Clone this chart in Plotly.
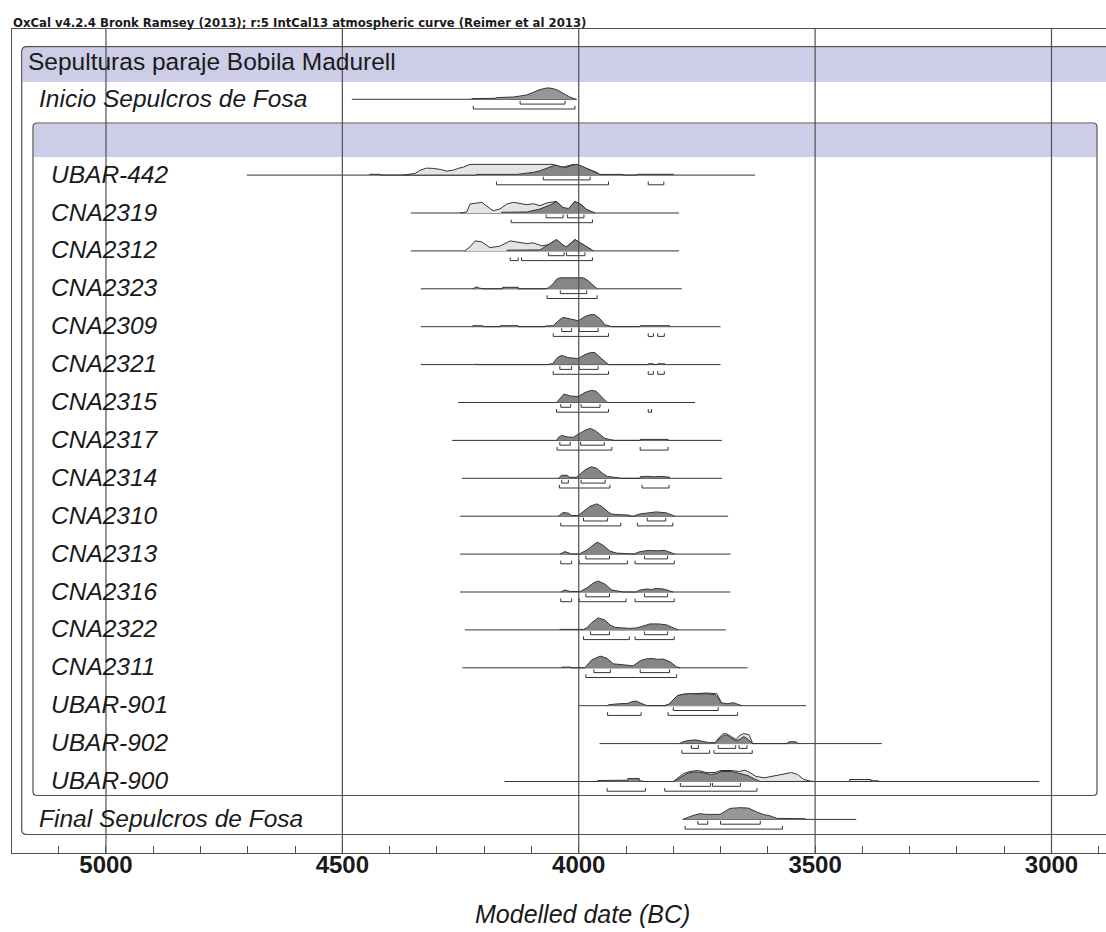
import plotly.graph_objects as go

# ---------------- text ----------------
HEADER_TEXT = "OxCal v4.2.4 Bronk Ramsey (2013); r:5 IntCal13 atmospheric curve (Reimer et al 2013)"
GROUP_TITLE = "Sepulturas paraje Bobila Madurell"
AXIS_TITLE = "Modelled date (BC)"

# ---------------- x axis (years BC, older on the left) ----------------
TICK_VALUES = [5000, 4500, 4000, 3500, 3000]
TICK_TEXT = ["5000", "4500", "4000", "3500", "3000"]
MINOR_STEP = 100
X_RANGE = [5198.8, 2884.7]

# ---------------- rows ----------------
ROW_LABELS = [
    "Inicio Sepulcros de Fosa",
    "UBAR-442", "CNA2319", "CNA2312", "CNA2323", "CNA2309", "CNA2321",
    "CNA2315", "CNA2317", "CNA2314", "CNA2310", "CNA2313", "CNA2316",
    "CNA2322", "CNA2311", "UBAR-901", "UBAR-902", "UBAR-900",
    "Final Sepulcros de Fosa",
]

# extent of each row's range line (years BC)
RANGE_START = [4480, 4702, 4355, 4355, 4334, 4334, 4334, 4255, 4268, 4247,
               4251, 4251, 4251, 4241, 4246, 4000, 3956, 4157, 3780]
RANGE_END = [4004, 3627, 3788, 3788, 3782, 3700, 3700, 3754, 3697, 3697,
             3684, 3679, 3679, 3689, 3643, 3519, 3359, 3026, 3413]

# highest posterior density ranges (from, to) in years BC
HPD68 = [
    [(4124, 4029)],
    [(4075, 3976)],
    [(4069, 4033), (4024, 3989)],
    [(4064, 4031), (4026, 3987)],
    [(4039, 3983)],
    [(4036, 4015), (3999, 3959)],
    [(4040, 4015), (3999, 3959)],
    [(4038, 4017), (3995, 3955)],
    [(4040, 4018), (3996, 3946)],
    [(4036, 4022), (3995, 3944)],
    [(3990, 3939), (3855, 3816)],
    [(3985, 3935), (3861, 3812)],
    [(3985, 3935), (3861, 3812)],
    [(3975, 3935), (3861, 3812)],
    [(3968, 3933), (3870, 3808)],
    [(3800, 3705)],
    [(3762, 3747), (3705, 3668), (3661, 3644)],
    [(3785, 3721), (3717, 3658)],
    [(3748, 3727), (3700, 3616)],
]
HPD95 = [
    [(4223, 4008)],
    [(4174, 3937), (3853, 3820)],
    [(4143, 3971)],
    [(4145, 4128), (4121, 3971)],
    [(4067, 3961)],
    [(4054, 3937), (3853, 3842), (3833, 3819)],
    [(4054, 3937), (3853, 3842), (3833, 3819)],
    [(4047, 3937), (3853, 3846)],
    [(4046, 3930), (3870, 3811)],
    [(4041, 3934), (3866, 3809)],
    [(4038, 3911), (3876, 3801)],
    [(4038, 4015), (3999, 3897), (3881, 3798)],
    [(4038, 4015), (3999, 3900), (3881, 3798)],
    [(3990, 3893), (3881, 3798)],
    [(3985, 3793)],
    [(3939, 3868), (3811, 3664)],
    [(3782, 3723), (3714, 3633)],
    [(3940, 3859), (3818, 3623)],
    [(3775, 3569)],
]

# probability distributions: (year BC, relative probability)
INICIO_POST = [(4226, 0), (4226, 0.7), (4177, 1.0), (4174, 1.7), (4138, 2.3), (4110, 4.3),
               (4096, 7.0), (4082, 9.7), (4068, 11.3), (4061, 11.3), (4047, 9.7),
               (4033, 6.3), (4019, 2.3), (4006, 0)]

UBAR442_LIKE = [(4371, 0), (4346, 1.7), (4336, 4.7), (4322, 7.0), (4308, 6.7), (4293, 5.7),
                (4279, 4.0), (4265, 5.0), (4255, 6.7), (4244, 8.0), (4230, 10.7),
                (4054, 10.7), (4043, 9.0), (4033, 8.0), (4012, 10.7), (3997, 9.3),
                (3987, 7.3), (3962, 2.7), (3954, 0)]
UBAR442_POST = [(4442, 0), (4442, 0.8), (4420, 0.8), (4420, 0), (4216, 0), (4216, 0.7),
                (4131, 0.7), (4096, 2.7), (4082, 4.3), (4068, 6.7), (4050, 10.0),
                (4040, 8.7), (4029, 7.3), (4015, 9.7), (4004, 10.7), (3994, 9.0),
                (3976, 5.0), (3955, 0.7), (3906, 0.7), (3906, 0), (3877, 0),
                (3877, 0.8), (3800, 0.8), (3800, 0)]

CNA2319_LIKE = [(4251, 0), (4237, 1.0), (4230, 9.0), (4205, 10.7), (4195, 7.0), (4181, 2.3),
                (4167, 4.0), (4152, 9.0), (4138, 10.7), (4124, 9.5), (4110, 8.3),
                (4096, 9.3), (4082, 7.3), (4068, 10.0), (4047, 11.7), (4033, 5.0),
                (4022, 4.0), (4008, 11.7), (3994, 8.3), (3983, 3.3), (3966, 0)]
CNA2319_POST = [(4163, 0), (4163, 0.7), (4110, 1.0), (4082, 4.0), (4061, 8.0), (4047, 11.2),
                (4033, 5.5), (4022, 4.5), (4008, 11.2), (3997, 9.0), (3983, 3.5), (3966, 0)]

CNA2312_LIKE = [(4241, 0), (4230, 4.0), (4219, 10.0), (4205, 9.0), (4188, 3.3), (4167, 4.7),
                (4145, 10.0), (4128, 8.7), (4110, 7.3), (4096, 8.0), (4078, 5.0),
                (4064, 6.3), (4047, 11.3), (4033, 5.7), (4026, 4.0), (4008, 11.3),
                (3994, 7.3), (3983, 3.3), (3969, 0)]
CNA2312_POST = [(4152, 0), (4152, 0.7), (4082, 1.0), (4064, 6.0), (4047, 11.3), (4033, 5.7),
                (4026, 4.0), (4008, 11.3), (3994, 7.3), (3983, 3.3), (3969, 0)]

CNA2323_POST = [(4224, 0), (4220, 1.0), (4216, 2.0), (4212, 1.0), (4203, 0), (4161, 0),
                (4161, 1.5), (4128, 1.5), (4128, 0), (4071, 0), (4064, 1.0), (4054, 5.0),
                (4047, 9.5), (4040, 11.0), (3990, 11.0), (3980, 8.0), (3969, 3.0), (3961, 0)]

CNA2309_POST = [(4224, 0), (4224, 1.0), (4203, 1.0), (4203, 0), (4166, 0), (4166, 1.0),
                (4128, 1.0), (4128, 0), (4071, 0), (4071, 0.7), (4054, 1.0), (4043, 6.0),
                (4033, 9.3), (4022, 8.0), (4001, 6.0), (3987, 10.0), (3976, 12.0),
                (3966, 12.0), (3955, 8.0), (3945, 2.0), (3930, 0.7), (3930, 0),
                (3870, 0), (3870, 1.0), (3808, 1.0), (3808, 0)]

CNA2321_POST = [(4218, 0), (4216, 0.8), (4214, 0), (4149, 0), (4149, 0.7), (4131, 0.7),
                (4131, 0), (4066, 0), (4055, 1.0), (4045, 7.0), (4036, 9.3), (4023, 7.0),
                (4001, 6.0), (3987, 10.0), (3975, 12.0), (3966, 12.0), (3952, 6.0),
                (3937, 0.7), (3937, 0), (3853, 0), (3853, 0.8), (3842, 0.8), (3842, 0),
                (3833, 0), (3833, 0.8), (3818, 0.8), (3818, 0)]

CNA2315_POST = [(4047, 0), (4040, 4.0), (4031, 8.5), (4018, 6.5), (4001, 6.0), (3987, 10.0),
                (3975, 12.0), (3964, 11.5), (3952, 6.0), (3942, 0.7), (3940, 0)]

CNA2317_POST = [(4047, 0), (4043, 3.0), (4036, 5.0), (4025, 3.5), (4012, 3.0), (4001, 6.0),
                (3987, 10.0), (3976, 12.0), (3966, 10.0), (3955, 6.0), (3945, 2.0),
                (3935, 1.0), (3925, 0), (3870, 0), (3870, 1.0), (3811, 1.0), (3811, 0)]

CNA2314_POST = [(4043, 0), (4040, 1.0), (4036, 3.0), (4024, 3.0), (4020, 1.0), (4005, 1.0),
                (3995, 5.0), (3985, 9.0), (3973, 11.5), (3962, 10.0), (3950, 5.0),
                (3940, 2.0), (3925, 1.0), (3910, 0), (3870, 0), (3870, 1.5), (3855, 2.0),
                (3840, 1.5), (3825, 2.0), (3808, 1.0), (3808, 0)]

CNA2310_POST = [(4043, 0), (4041, 0.7), (4033, 3.7), (4022, 3.0), (4015, 0.7), (4001, 0.7),
                (3990, 5.0), (3976, 10.0), (3962, 12.3), (3952, 10.0), (3937, 4.0),
                (3930, 2.0), (3892, 1.0), (3892, 0), (3881, 0), (3881, 0.7), (3870, 2.3),
                (3856, 3.3), (3836, 4.3), (3814, 3.3), (3797, 0)]

CNA2313_POST = [(4040, 0), (4029, 2.5), (4015, 0), (3997, 0), (3997, 0.5), (3983, 4.0),
                (3973, 8.0), (3961, 12.0), (3949, 9.0), (3934, 3.0), (3920, 1.0),
                (3892, 0.7), (3888, 0), (3881, 0), (3881, 0.5), (3870, 2.5), (3853, 3.7),
                (3836, 3.3), (3818, 3.7), (3797, 0)]

CNA2316_POST = [(4038, 0), (4029, 2.0), (4018, 0.5), (3997, 0.5), (3983, 4.0), (3969, 9.0),
                (3959, 11.0), (3945, 8.0), (3930, 2.0), (3906, 0.5), (3906, 0), (3877, 0),
                (3877, 0.5), (3870, 2.0), (3856, 3.0), (3846, 2.5), (3836, 3.5),
                (3821, 3.0), (3800, 0)]

CNA2322_POST = [(4040, 0), (4040, 0.5), (3990, 0.5), (3983, 2.0), (3973, 7.0), (3959, 12.0),
                (3945, 10.0), (3934, 5.0), (3923, 2.5), (3892, 1.5), (3877, 2.0),
                (3863, 4.0), (3849, 6.0), (3831, 6.0), (3814, 5.0), (3800, 2.0), (3789, 0)]

CNA2311_POST = [(4036, 0), (4036, 0.7), (4017, 0.7), (4017, 0), (3987, 0), (3973, 7.7),
                (3955, 11.7), (3941, 9.7), (3927, 4.0), (3899, 2.7), (3885, 2.0),
                (3870, 7.0), (3856, 9.0), (3842, 9.3), (3835, 8.5), (3821, 8.7),
                (3807, 6.0), (3793, 1.0), (3786, 0)]

UBAR901_LIKE = [(3818, 0), (3809, 1.5), (3800, 6.0), (3791, 10.0), (3778, 11.5), (3756, 12.3),
                (3730, 12.7), (3708, 12.0), (3704, 8.0), (3699, 3.0), (3695, 0)]
UBAR901_POST = [(3940, 0), (3936, 1.0), (3914, 2.0), (3896, 2.3), (3888, 4.0), (3879, 4.7),
                (3866, 2.0), (3857, 0.7), (3855, 0), (3818, 0), (3809, 1.5), (3800, 6.0),
                (3791, 10.0), (3778, 11.5), (3765, 12.0), (3747, 11.7), (3730, 12.0),
                (3712, 11.0), (3705, 8.0), (3699, 3.0), (3686, 2.0), (3673, 3.0),
                (3664, 1.5), (3655, 0)]

UBAR902_LIKE = [(3712, 0), (3705, 5.0), (3695, 9.7), (3688, 10.0), (3677, 7.0), (3667, 4.0),
                (3660, 8.0), (3651, 10.0), (3640, 9.0), (3632, 0)]
UBAR902_POST = [(3787, 0), (3778, 2.0), (3765, 3.3), (3752, 3.7), (3739, 2.3), (3725, 1.0),
                (3712, 1.0), (3705, 4.0), (3695, 7.7), (3688, 8.7), (3677, 6.0),
                (3668, 3.0), (3660, 4.0), (3651, 7.0), (3644, 5.0), (3635, 1.0),
                (3632, 0), (3559, 0), (3557, 1.5), (3548, 2.0), (3539, 1.5), (3537, 0)]

UBAR900_LIKE = [(3800, 0), (3791, 3.0), (3778, 8.0), (3765, 10.0), (3747, 11.0), (3730, 9.0),
                (3712, 9.0), (3699, 11.0), (3677, 11.0), (3660, 10.0), (3649, 11.3),
                (3638, 9.0), (3625, 5.0), (3607, 3.7), (3581, 6.0), (3550, 9.0),
                (3537, 7.0), (3524, 2.0), (3511, 0.5), (3502, 0), (3427, 0), (3427, 2.0),
                (3382, 2.0), (3382, 0)]
UBAR900_POST = [(3960, 0), (3960, 1.0), (3896, 1.3), (3896, 3.0), (3872, 3.0), (3872, 1.0),
                (3861, 0), (3800, 0), (3791, 2.0), (3782, 5.0), (3769, 8.3), (3756, 9.7),
                (3739, 9.0), (3721, 7.0), (3708, 8.0), (3699, 10.0), (3677, 10.0),
                (3660, 8.0), (3642, 6.0), (3629, 2.7), (3616, 0), (3382, 0), (3382, 0.7),
                (3366, 0.7), (3366, 0)]

FINAL_POST = [(3780, 0), (3775, 1.0), (3758, 4.0), (3744, 5.7), (3729, 5.0), (3701, 5.0),
              (3691, 8.0), (3680, 11.0), (3659, 11.7), (3641, 11.3), (3624, 7.5),
              (3610, 5.0), (3595, 3.5), (3581, 1.0), (3521, 0.7), (3521, 0)]

POSTERIORS = [INICIO_POST, UBAR442_POST, CNA2319_POST, CNA2312_POST, CNA2323_POST,
              CNA2309_POST, CNA2321_POST, CNA2315_POST, CNA2317_POST, CNA2314_POST,
              CNA2310_POST, CNA2313_POST, CNA2316_POST, CNA2322_POST, CNA2311_POST,
              UBAR901_POST, UBAR902_POST, UBAR900_POST, FINAL_POST]
LIKELIHOODS = [None, UBAR442_LIKE, CNA2319_LIKE, CNA2312_LIKE, None, None, None, None,
               None, None, None, None, None, None, None, UBAR901_LIKE, UBAR902_LIKE,
               UBAR900_LIKE, None]

# ---------------- layout geometry (pixels) ----------------
W, H = 1106, 932
M_L, M_T, M_B = 12, 29, 79
Y_TOP, Y_AXIS = 29, 853           # y axis runs in page pixels
ROW0, PITCH = 99.3, 37.9           # baseline of first row and row spacing
PROB_SCALE = 1.0                   # pixels per unit of relative probability

INK = "#353535"
FRAME = "#505050"
TEXT = "#1a1a1a"
BAND = "#cdcde8"
LIGHT_FILL = "#e4e4e4"
DARK_FILL = "#868686"
BOUNDARY_FILL = "#979797"
FONT = "Liberation Sans"


def px_to_year(px):
    span = X_RANGE[0] - X_RANGE[1]
    return X_RANGE[0] - (px - M_L) / (W - M_L) * span


def px_to_paper_x(px):
    return (px - M_L) / (W - M_L)


def px_to_paper_y(py):
    return (Y_AXIS - py) / (Y_AXIS - Y_TOP)


def slot(i):
    # the phase header occupies one slot after the first boundary
    return i + (1 if i > 0 else 0)


def baseline(i):
    return ROW0 + slot(i) * PITCH


def rounded_box(l, t, r, b, rad):
    xl, xr = px_to_year(l), px_to_year(r)
    dx = px_to_year(l) - px_to_year(l + rad)
    return (f"M {xl},{t + rad} Q {xl},{t} {xl - dx},{t} L {xr + dx},{t} "
            f"Q {xr},{t} {xr},{t + rad} L {xr},{b - rad} Q {xr},{b} {xr + dx},{b} "
            f"L {xl - dx},{b} Q {xl},{b} {xl},{b - rad} Z")


fig = go.Figure()

# range lines
rx, ry = [], []
for i in range(len(ROW_LABELS)):
    y0 = baseline(i)
    rx += [RANGE_START[i], RANGE_END[i], None]
    ry += [y0, y0, None]
fig.add_trace(go.Scatter(x=rx, y=ry, mode="lines", line=dict(color=INK, width=1),
                         hoverinfo="skip", showlegend=False))


def add_dist(points, y0, fill):
    xs = [p[0] for p in points]
    ys = [y0 - p[1] * PROB_SCALE for p in points]
    fig.add_trace(go.Scatter(x=xs, y=ys, mode="lines", fill="toself", fillcolor=fill,
                             line=dict(color=INK, width=1), hoverinfo="skip",
                             showlegend=False))


for i, dist in enumerate(LIKELIHOODS):
    if dist is not None:
        add_dist(dist, baseline(i), LIGHT_FILL)
for i, dist in enumerate(POSTERIORS):
    fill = BOUNDARY_FILL if i in (0, len(POSTERIORS) - 1) else DARK_FILL
    add_dist(dist, baseline(i), fill)

# HPD brackets
bx, by = [], []
for i in range(len(ROW_LABELS)):
    y0 = baseline(i)
    for ranges, (top, bot) in ((HPD68[i], (1.5, 4.8)), (HPD95[i], (6.5, 9.7))):
        for a, b in ranges:
            bx += [a, a, b, b, None]
            by += [y0 + top, y0 + bot, y0 + bot, y0 + top, None]
fig.add_trace(go.Scatter(x=bx, y=by, mode="lines", line=dict(color=INK, width=1),
                         hoverinfo="skip", showlegend=False))

# vertical reference lines at the major ticks, drawn over the curves
gx, gy = [], []
for v in TICK_VALUES:
    gx += [v, v, None]
    gy += [Y_TOP, Y_AXIS, None]
fig.add_trace(go.Scatter(x=gx, y=gy, mode="lines", line=dict(color=FRAME, width=1.2),
                         hoverinfo="skip", showlegend=False))

# group and phase boxes with their header bands
shapes = [
    dict(type="rect", xref="x", yref="y", x0=px_to_year(22.5), x1=px_to_year(1112),
         y0=47.2, y1=82, fillcolor=BAND, line=dict(width=0), layer="below"),
    dict(type="rect", xref="x", yref="y", x0=px_to_year(33.5), x1=px_to_year(1096.5),
         y0=123.5, y1=157, fillcolor=BAND, line=dict(width=0), layer="below"),
    dict(type="path", xref="x", yref="y", path=rounded_box(21.7, 46.7, 1112, 834.5, 5),
         line=dict(color=FRAME, width=1.2), layer="below"),
    dict(type="path", xref="x", yref="y", path=rounded_box(33, 123, 1097, 795.5, 4),
         line=dict(color=FRAME, width=1.2), layer="below"),
]

annotations = [
    dict(x=px_to_paper_x(11), y=px_to_paper_y(23), xref="paper", yref="paper",
         text=HEADER_TEXT, showarrow=False, xanchor="left", yanchor="middle",
         font=dict(family="DejaVu Sans", size=11.7, color=TEXT, weight="bold")),
    dict(x=px_to_year(26), y=61, xref="x", yref="y", text=GROUP_TITLE, showarrow=False,
         xanchor="left", yanchor="middle",
         font=dict(family=FONT, size=24.5, color=TEXT)),
    dict(x=px_to_paper_x(582), y=px_to_paper_y(914.5), xref="paper", yref="paper",
         text=AXIS_TITLE, showarrow=False, xanchor="center", yanchor="middle",
         font=dict(family=FONT, size=25, color=TEXT, style="italic")),
]
last = len(ROW_LABELS) - 1
for i, name in enumerate(ROW_LABELS):
    left = 37 if i in (0, last) else 49
    annotations.append(dict(x=px_to_year(left), y=baseline(i) - 1, xref="x", yref="y",
                            text=name, showarrow=False, xanchor="left", yanchor="middle",
                            font=dict(family=FONT, size=24.5, color=TEXT,
                                      style="italic")))

fig.update_layout(
    width=W, height=H,
    margin=dict(l=M_L, r=0, t=M_T, b=M_B, pad=0),
    paper_bgcolor="white", plot_bgcolor="white",
    shapes=shapes, annotations=annotations, showlegend=False,
    xaxis=dict(range=X_RANGE, tickmode="array", tickvals=TICK_VALUES, ticktext=TICK_TEXT,
               ticks="inside", ticklen=7, tickwidth=1, tickcolor=FRAME,
               showline=True, linecolor=FRAME, linewidth=1.2, mirror=True,
               showgrid=False, zeroline=False, ticklabelstandoff=-10,
               tickfont=dict(family=FONT, size=24, color=TEXT, weight="bold"),
               minor=dict(tickmode="linear", tick0=3000, dtick=MINOR_STEP,
                          ticks="inside", ticklen=7, tickcolor=FRAME, showgrid=False)),
    yaxis=dict(range=[Y_AXIS, Y_TOP], showticklabels=False, ticks="", showgrid=False,
               zeroline=False, showline=True, linecolor=FRAME, linewidth=1.2, mirror=False),
)

fig.write_html("out.html")
